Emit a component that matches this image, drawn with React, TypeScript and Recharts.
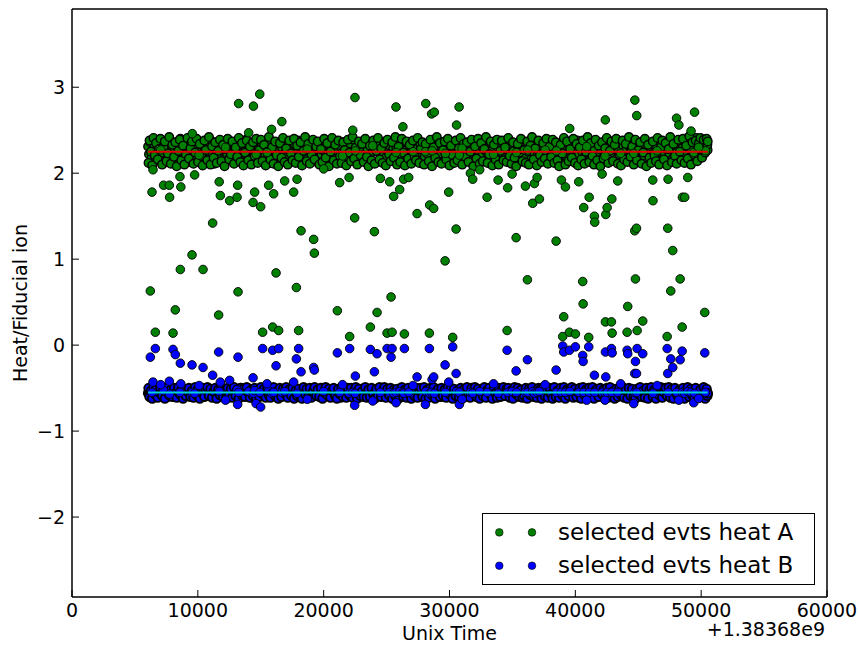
import { ScatterChart, Scatter, XAxis, YAxis, Legend } from "recharts";

// event times (s, offset +1.38368e9) for the bulk of events
const bandTimes = [
  6050, 6120, 6210, 6330, 6420, 6540, 6610, 6750, 6880, 6960,
  7090, 7230, 7310, 7450, 7580, 7660, 7790, 7920, 8040, 8170,
  8250, 8390, 8520, 8610, 8760, 8890, 8970, 9120, 9240, 9350,
  9480, 9600, 9710, 9860, 9950, 10090, 10220, 10310, 10460, 10580,
  10690, 10830, 10940, 11080, 11190, 11320, 11440, 11560, 11700, 11810,
  11950, 12060, 12190, 12330, 12420, 12570, 12690, 12800, 12950, 13060,
  13200, 13310, 13450, 13570, 13680, 13830, 13940, 14080, 14200, 14310,
  14460, 14570, 14700, 14830, 14940, 15090, 15200, 15330, 15460, 15580,
  15710, 15820, 15960, 16080, 16210, 16330, 16450, 16590, 16700, 16840,
  16960, 17080, 17210, 17320, 17470, 17580, 17720, 17840, 17950, 18100,
  18220, 18340, 18470, 18590, 18720, 18840, 18960, 19100, 19210, 19350,
  19470, 19590, 19730, 19840, 19980, 20100, 20220, 20360, 20480, 20600,
  20740, 20850, 20990, 21110, 21230, 21370, 21480, 21620, 21740, 21860,
  21990, 22110, 22240, 22360, 22490, 22610, 22730, 22870, 22990, 23110,
  23250, 23360, 23500, 23620, 23740, 23880, 24000, 24120, 24260, 24370,
  24510, 24630, 24750, 24890, 25000, 25140, 25260, 25380, 25520, 25640,
  25760, 25900, 26010, 26150, 26270, 26390, 26530, 26650, 26770, 26910,
  27020, 27160, 27280, 27400, 27540, 27660, 27780, 27920, 28040, 28160,
  28300, 28410, 28550, 28670, 28790, 28930, 29050, 29170, 29310, 29420,
  29560, 29680, 29800, 29940, 30060, 30180, 30320, 30430, 30570, 30690,
  30810, 30950, 31070, 31190, 31330, 31440, 31580, 31700, 31820, 31960,
  32080, 32200, 32340, 32450, 32590, 32710, 32830, 32970, 33090, 33210,
  33350, 33460, 33600, 33720, 33840, 33980, 34100, 34220, 34360, 34470,
  34610, 34730, 34850, 34990, 35110, 35230, 35370, 35480, 35620, 35740,
  35860, 36000, 36120, 36240, 36380, 36490, 36630, 36750, 36870, 37010,
  37130, 37250, 37390, 37500, 37640, 37760, 37880, 38020, 38140, 38260,
  38400, 38510, 38650, 38770, 38890, 39030, 39150, 39270, 39410, 39520,
  39660, 39780, 39900, 40040, 40160, 40280, 40420, 40530, 40670, 40790,
  40910, 41050, 41170, 41290, 41430, 41540, 41680, 41800, 41920, 42060,
  42180, 42300, 42440, 42550, 42690, 42810, 42930, 43070, 43190, 43310,
  43450, 43560, 43700, 43820, 43940, 44080, 44200, 44320, 44460, 44570,
  44710, 44830, 44950, 45090, 45210, 45330, 45470, 45580, 45720, 45840,
  45960, 46100, 46220, 46340, 46480, 46590, 46730, 46850, 46970, 47110,
  47230, 47350, 47490, 47600, 47740, 47860, 47980, 48120, 48240, 48360,
  48500, 48610, 48750, 48870, 48990, 49130, 49250, 49370, 49510, 49620,
  49760, 49880, 50000, 50140, 50260, 50380, 50470, 50510,
];

const bandHeatA = [
  2.31, 2.22, 2.36, 2.18, 2.27, 2.33, 2.14, 2.25, 2.29, 2.20,
  2.35, 2.24, 2.12, 2.30, 2.26, 2.19, 2.38, 2.23, 2.28, 2.16,
  2.32, 2.21, 2.27, 2.40, 2.17, 2.25, 2.34, 2.22, 2.13, 2.29,
  2.24, 2.36, 2.19, 2.28, 2.31, 2.15, 2.26, 2.33, 2.21, 2.27,
  2.18, 2.30, 2.24, 2.37, 2.22, 2.11, 2.28, 2.25, 2.32, 2.20,
  2.27, 2.16, 2.34, 2.23, 2.29, 2.19, 2.36, 2.26, 2.14, 2.31,
  2.22, 2.28, 2.17, 2.33, 2.25, 2.39, 2.20, 2.27, 2.30, 2.13,
  2.35, 2.24, 2.18, 2.29, 2.26, 2.32, 2.15, 2.23, 2.37, 2.21,
  2.28, 2.12, 2.31, 2.25, 2.19, 2.34, 2.27, 2.22, 2.30, 2.16,
  2.24, 2.36, 2.20, 2.29, 2.14, 2.27, 2.33, 2.23, 2.38, 2.18,
  2.26, 2.31, 2.21, 2.35, 2.17, 2.28, 2.24, 2.32, 2.19, 2.30,
  2.13, 2.27, 2.34, 2.22, 2.29, 2.25, 2.37, 2.16, 2.31, 2.23,
  2.28, 2.20, 2.33, 2.26, 2.15, 2.30, 2.24, 2.36, 2.21, 2.27,
  2.18, 2.32, 2.25, 2.39, 2.22, 2.29, 2.14, 2.31, 2.26, 2.20,
  2.35, 2.23, 2.28, 2.17, 2.33, 2.25, 2.30, 2.12, 2.27, 2.34,
  2.21, 2.29, 2.24, 2.37, 2.19, 2.26, 2.32, 2.16, 2.28, 2.23,
  2.31, 2.15, 2.36, 2.25, 2.20, 2.30, 2.27, 2.22, 2.34, 2.18,
  2.26, 2.33, 2.21, 2.28, 2.14, 2.35, 2.24, 2.30, 2.19, 2.27,
  2.32, 2.23, 2.38, 2.17, 2.29, 2.25, 2.31, 2.20, 2.36, 2.13,
  2.27, 2.22, 2.33, 2.26, 2.18, 2.30, 2.24, 2.37, 2.21, 2.28,
  2.16, 2.34, 2.25, 2.29, 2.22, 2.31, 2.19, 2.27, 2.35, 2.23,
  2.30, 2.14, 2.26, 2.32, 2.20, 2.28, 2.36, 2.24, 2.17, 2.33,
  2.25, 2.29, 2.21, 2.38, 2.27, 2.15, 2.31, 2.23, 2.34, 2.19,
  2.28, 2.24, 2.32, 2.18, 2.26, 2.35, 2.22, 2.30, 2.13, 2.27,
  2.33, 2.20, 2.29, 2.25, 2.37, 2.16, 2.31, 2.24, 2.28, 2.21,
  2.26, 2.34, 2.19, 2.30, 2.23, 2.27, 2.36, 2.15, 2.32, 2.25,
  2.22, 2.29, 2.17, 2.33, 2.28, 2.24, 2.31, 2.20, 2.35, 2.26,
  2.30, 2.14, 2.27, 2.23, 2.38, 2.21, 2.29, 2.25, 2.18, 2.34,
  2.24, 2.31, 2.26, 2.19, 2.32, 2.28, 2.16, 2.36, 2.22, 2.27,
  2.33, 2.20, 2.29, 2.25, 2.13, 2.30, 2.37, 2.23, 2.28, 2.17,
  2.26, 2.35, 2.21, 2.32, 2.24, 2.29, 2.18, 2.31, 2.27, 2.39,
  2.22, 2.28, 2.15, 2.34, 2.25, 2.30, 2.20, 2.36, 2.23, 2.27,
  2.31, 2.19, 2.33, 2.26, 2.29, 2.14, 2.37, 2.24, 2.32, 2.21,
  2.28, 2.35, 2.22, 2.30, 2.17, 2.27, 2.34, 2.25, 2.38, 2.20,
  2.29, 2.24, 2.40, 2.31, 2.16, 2.33, 2.26, 2.36, 2.21, 2.41,
  2.30, 2.19, 2.37, 2.28, 2.23, 2.35, 2.32, 2.27,
];

const bandHeatB = [
  -0.56, -0.53, -0.58, -0.54, -0.57, -0.52, -0.55, -0.59, -0.54, -0.56,
  -0.51, -0.57, -0.55, -0.53, -0.60, -0.54, -0.56, -0.52, -0.58, -0.55,
  -0.53, -0.57, -0.50, -0.56, -0.54, -0.59, -0.55, -0.52, -0.57, -0.54,
  -0.58, -0.55, -0.53, -0.56, -0.51, -0.57, -0.54, -0.59, -0.55, -0.52,
  -0.56, -0.54, -0.58, -0.53, -0.55, -0.60, -0.52, -0.56, -0.54, -0.57,
  -0.55, -0.51, -0.57, -0.54, -0.59, -0.53, -0.56, -0.55, -0.52, -0.58,
  -0.54, -0.56, -0.50, -0.57, -0.55, -0.53, -0.58, -0.54, -0.56, -0.61,
  -0.53, -0.57, -0.55, -0.52, -0.56, -0.59, -0.54, -0.51, -0.57, -0.55,
  -0.58, -0.54, -0.56, -0.53, -0.55, -0.60, -0.52, -0.57, -0.54, -0.56,
  -0.55, -0.59, -0.53, -0.56, -0.51, -0.57, -0.54, -0.58, -0.55, -0.52,
  -0.56, -0.54, -0.57, -0.53, -0.60, -0.55, -0.52, -0.56, -0.58, -0.54,
  -0.53, -0.57, -0.55, -0.50, -0.56, -0.59, -0.54, -0.57, -0.52, -0.55,
  -0.58, -0.54, -0.56, -0.53, -0.55, -0.61, -0.52, -0.57, -0.54, -0.56,
  -0.55, -0.52, -0.58, -0.54, -0.56, -0.53, -0.59, -0.55, -0.51, -0.57,
  -0.54, -0.56, -0.53, -0.58, -0.55, -0.52, -0.57, -0.60, -0.54, -0.56,
  -0.53, -0.57, -0.55, -0.51, -0.56, -0.59, -0.54, -0.52, -0.58, -0.55,
  -0.56, -0.54, -0.57, -0.53, -0.55, -0.60, -0.52, -0.56, -0.54, -0.58,
  -0.55, -0.53, -0.57, -0.50, -0.56, -0.54, -0.59, -0.55, -0.52, -0.57,
  -0.54, -0.58, -0.55, -0.53, -0.56, -0.51, -0.57, -0.54, -0.60, -0.55,
  -0.52, -0.56, -0.54, -0.58, -0.55, -0.53, -0.57, -0.61, -0.54, -0.56,
  -0.55, -0.52, -0.57, -0.54, -0.59, -0.56, -0.53, -0.55, -0.50, -0.57,
  -0.54, -0.58, -0.55, -0.52, -0.56, -0.53, -0.60, -0.54, -0.57, -0.55,
  -0.53, -0.56, -0.51, -0.58, -0.55, -0.54, -0.57, -0.52, -0.56, -0.59,
  -0.55, -0.53, -0.57, -0.54, -0.56, -0.50, -0.58, -0.55, -0.52, -0.56,
  -0.54, -0.59, -0.55, -0.53, -0.57, -0.56, -0.51, -0.58, -0.54, -0.55,
  -0.57, -0.53, -0.56, -0.60, -0.54, -0.55, -0.52, -0.57, -0.55, -0.53,
  -0.56, -0.54, -0.58, -0.51, -0.55, -0.57, -0.53, -0.59, -0.54, -0.56,
  -0.52, -0.55, -0.57, -0.54, -0.56, -0.61, -0.53, -0.55, -0.58, -0.54,
  -0.56, -0.50, -0.55, -0.57, -0.53, -0.56, -0.59, -0.54, -0.52, -0.57,
  -0.55, -0.58, -0.54, -0.56, -0.53, -0.60, -0.55, -0.51, -0.57, -0.54,
  -0.56, -0.53, -0.58, -0.55, -0.52, -0.57, -0.54, -0.59, -0.56, -0.55,
  -0.53, -0.57, -0.55, -0.50, -0.56, -0.54, -0.58, -0.55, -0.52, -0.60,
  -0.56, -0.54, -0.57, -0.53, -0.55, -0.59, -0.51, -0.56, -0.54, -0.58,
  -0.55, -0.52, -0.57, -0.54, -0.56, -0.53, -0.60, -0.55, -0.57, -0.54,
  -0.56, -0.58, -0.53, -0.55, -0.57, -0.52, -0.59, -0.54, -0.56, -0.58,
  -0.55, -0.57, -0.53, -0.56, -0.54, -0.58, -0.55, -0.57,
];

// second run of events, interleaved with the first
const bandTimes2 = [
  6085, 6165, 6270, 6375, 6480, 6575, 6680, 6815, 6920, 7025,
  7160, 7270, 7380, 7515, 7620, 7725, 7855, 7980, 8105, 8210,
  8320, 8455, 8565, 8685, 8825, 8930, 9045, 9180, 9295, 9415,
  9540, 9655, 9785, 9905, 10020, 10155, 10265, 10385, 10520, 10635,
  10760, 10885, 11010, 11135, 11255, 11380, 11500, 11630, 11755, 11880,
  12005, 12125, 12260, 12375, 12495, 12630, 12745, 12875, 13005, 13130,
  13255, 13380, 13510, 13625, 13755, 13885, 14010, 14140, 14255, 14385,
  14515, 14635, 14765, 14885, 15015, 15145, 15265, 15395, 15520, 15645,
  15765, 15890, 16020, 16145, 16270, 16390, 16520, 16645, 16770, 16900,
  17020, 17145, 17265, 17395, 17525, 17650, 17780, 17895, 18025, 18160,
  18280, 18405, 18530, 18655, 18780, 18900, 19030, 19155, 19280, 19410,
  19530, 19660, 19785, 19910, 20040, 20160, 20290, 20420, 20540, 20670,
  20795, 20920, 21050, 21170, 21300, 21425, 21550, 21680, 21800, 21925,
  22050, 22175, 22300, 22425, 22550, 22670, 22800, 22930, 23050, 23180,
  23305, 23430, 23560, 23680, 23810, 23940, 24060, 24190, 24315, 24440,
  24570, 24690, 24820, 24945, 25070, 25200, 25320, 25450, 25580, 25700,
  25830, 25955, 26080, 26210, 26330, 26460, 26590, 26710, 26840, 26965,
  27090, 27220, 27340, 27470, 27600, 27720, 27850, 27980, 28100, 28230,
  28355, 28480, 28610, 28730, 28860, 28990, 29110, 29240, 29365, 29490,
  29620, 29740, 29870, 30000, 30120, 30250, 30375, 30500, 30630, 30750,
  30880, 31010, 31130, 31260, 31385, 31510, 31640, 31760, 31890, 32020,
  32140, 32270, 32395, 32520, 32650, 32770, 32900, 33030, 33150, 33280,
  33405, 33530, 33660, 33780, 33910, 34040, 34160, 34290, 34415, 34540,
  34670, 34790, 34920, 35050, 35170, 35300, 35425, 35550, 35680, 35800,
  35930, 36060, 36180, 36310, 36435, 36560, 36690, 36810, 36940, 37070,
  37190, 37320, 37445, 37570, 37700, 37820, 37950, 38080, 38200, 38330,
  38455, 38580, 38710, 38830, 38960, 39090, 39210, 39340, 39465, 39590,
  39720, 39840, 39970, 40100, 40220, 40350, 40475, 40600, 40730, 40850,
  40980, 41110, 41230, 41360, 41485, 41610, 41740, 41860, 41990, 42120,
  42240, 42370, 42495, 42620, 42750, 42870, 43000, 43130, 43250, 43380,
  43505, 43630, 43760, 43880, 44010, 44140, 44260, 44390, 44515, 44640,
  44770, 44890, 45020, 45150, 45270, 45400, 45525, 45650, 45780, 45900,
  46030, 46160, 46280, 46410, 46535, 46660, 46790, 46910, 47040, 47170,
  47290, 47420, 47545, 47670, 47800, 47920, 48050, 48180, 48300, 48430,
  48555, 48680, 48810, 48930, 49060, 49190, 49310, 49440, 49565, 49690,
  49820, 49940, 50070, 50200, 50320, 50430, 50490, 50520,
];

const bandHeatA2 = [
  2.12, 2.38, 2.25, 2.09, 2.41, 2.21, 2.35, 2.16, 2.28, 2.40,
  2.10, 2.30, 2.37, 2.14, 2.23, 2.42, 2.11, 2.33, 2.19, 2.36,
  2.08, 2.26, 2.39, 2.15, 2.32, 2.10, 2.22, 2.41, 2.17, 2.29,
  2.37, 2.11, 2.24, 2.40, 2.13, 2.34, 2.20, 2.09, 2.38, 2.27,
  2.15, 2.42, 2.10, 2.31, 2.18, 2.36, 2.12, 2.26, 2.39, 2.14,
  2.33, 2.08, 2.28, 2.40, 2.16, 2.22, 2.37, 2.11, 2.30, 2.19,
  2.41, 2.13, 2.35, 2.09, 2.24, 2.38, 2.15, 2.31, 2.10, 2.36,
  2.20, 2.40, 2.12, 2.27, 2.39, 2.14, 2.33, 2.09, 2.25, 2.42,
  2.16, 2.30, 2.11, 2.37, 2.21, 2.08, 2.35, 2.18, 2.41, 2.13,
  2.29, 2.10, 2.38, 2.23, 2.15, 2.40, 2.12, 2.32, 2.19, 2.36,
  2.09, 2.26, 2.42, 2.14, 2.34, 2.11, 2.22, 2.39, 2.16, 2.31,
  2.37, 2.10, 2.28, 2.13, 2.40, 2.18, 2.35, 2.08, 2.25, 2.41,
  2.15, 2.33, 2.11, 2.38, 2.20, 2.12, 2.36, 2.27, 2.09, 2.39,
  2.24, 2.14, 2.42, 2.17, 2.30, 2.10, 2.37, 2.21, 2.34, 2.13,
  2.40, 2.19, 2.08, 2.32, 2.15, 2.38, 2.11, 2.26, 2.41, 2.16,
  2.29, 2.12, 2.35, 2.09, 2.39, 2.22, 2.14, 2.36, 2.18, 2.42,
  2.10, 2.31, 2.13, 2.40, 2.24, 2.09, 2.37, 2.17, 2.33, 2.11,
  2.38, 2.20, 2.15, 2.41, 2.12, 2.28, 2.36, 2.10, 2.34, 2.23,
  2.14, 2.39, 2.08, 2.30, 2.18, 2.42, 2.13, 2.35, 2.11, 2.27,
  2.37, 2.16, 2.40, 2.09, 2.32, 2.21, 2.12, 2.38, 2.15, 2.29,
  2.41, 2.10, 2.34, 2.19, 2.36, 2.13, 2.25, 2.39, 2.08, 2.31,
  2.17, 2.40, 2.11, 2.35, 2.14, 2.28, 2.42, 2.12, 2.22, 2.37,
  2.09, 2.33, 2.16, 2.39, 2.10, 2.26, 2.38, 2.15, 2.30, 2.13,
  2.41, 2.20, 2.11, 2.36, 2.18, 2.08, 2.34, 2.24, 2.40, 2.14,
  2.27, 2.12, 2.37, 2.10, 2.32, 2.42, 2.16, 2.29, 2.09, 2.38,
  2.21, 2.13, 2.35, 2.17, 2.40, 2.11, 2.31, 2.19, 2.39, 2.12,
  2.36, 2.15, 2.08, 2.33, 2.23, 2.41, 2.10, 2.37, 2.14, 2.28,
  2.18, 2.40, 2.12, 2.34, 2.09, 2.30, 2.16, 2.38, 2.11, 2.25,
  2.42, 2.13, 2.35, 2.20, 2.10, 2.39, 2.15, 2.32, 2.08, 2.36,
  2.17, 2.29, 2.41, 2.12, 2.26, 2.37, 2.14, 2.33, 2.40, 2.11,
  2.22, 2.09, 2.38, 2.16, 2.34, 2.13, 2.42, 2.19, 2.31, 2.10,
  2.39, 2.15, 2.27, 2.36, 2.11, 2.24, 2.40, 2.08, 2.33, 2.18,
  2.12, 2.37, 2.21, 2.14, 2.41, 2.10, 2.30, 2.38, 2.16, 2.35,
  2.09, 2.28, 2.42, 2.13, 2.34, 2.20, 2.11, 2.39, 2.25, 2.15,
  2.40, 2.12, 2.32, 2.17, 2.43, 2.10, 2.36, 2.22, 2.38, 2.14,
  2.35, 2.41, 2.18, 2.39, 2.24, 2.40, 2.33, 2.37,
];

const bandHeatB2 = [
  -0.50, -0.60, -0.53, -0.62, -0.49, -0.57, -0.52, -0.61, -0.55, -0.50,
  -0.59, -0.51, -0.62, -0.54, -0.49, -0.58, -0.52, -0.60, -0.50, -0.56,
  -0.61, -0.49, -0.57, -0.52, -0.62, -0.51, -0.59, -0.54, -0.50, -0.60,
  -0.53, -0.61, -0.49, -0.58, -0.51, -0.62, -0.55, -0.50, -0.60, -0.52,
  -0.49, -0.59, -0.51, -0.61, -0.54, -0.50, -0.62, -0.52, -0.58, -0.49,
  -0.60, -0.53, -0.62, -0.50, -0.57, -0.51, -0.61, -0.49, -0.59, -0.52,
  -0.62, -0.50, -0.58, -0.51, -0.60, -0.49, -0.55, -0.61, -0.52, -0.59,
  -0.50, -0.62, -0.53, -0.60, -0.49, -0.57, -0.51, -0.61, -0.50, -0.58,
  -0.61, -0.52, -0.49, -0.59, -0.54, -0.62, -0.50, -0.60, -0.51, -0.56,
  -0.49, -0.61, -0.52, -0.58, -0.50, -0.62, -0.53, -0.59, -0.51, -0.60,
  -0.62, -0.49, -0.57, -0.51, -0.60, -0.50, -0.61, -0.54, -0.49, -0.59,
  -0.52, -0.60, -0.50, -0.62, -0.55, -0.49, -0.58, -0.51, -0.61, -0.53,
  -0.50, -0.59, -0.62, -0.51, -0.57, -0.49, -0.60, -0.52, -0.61, -0.50,
  -0.58, -0.50, -0.61, -0.53, -0.49, -0.62, -0.51, -0.59, -0.54, -0.60,
  -0.49, -0.61, -0.52, -0.60, -0.50, -0.57, -0.62, -0.51, -0.59, -0.49,
  -0.60, -0.53, -0.49, -0.61, -0.51, -0.58, -0.50, -0.62, -0.52, -0.59,
  -0.51, -0.62, -0.55, -0.49, -0.60, -0.52, -0.61, -0.50, -0.57, -0.62,
  -0.49, -0.59, -0.51, -0.61, -0.53, -0.50, -0.60, -0.49, -0.62, -0.52,
  -0.61, -0.50, -0.58, -0.49, -0.62, -0.54, -0.51, -0.60, -0.50, -0.59,
  -0.52, -0.61, -0.49, -0.57, -0.50, -0.62, -0.51, -0.59, -0.53, -0.60,
  -0.50, -0.62, -0.52, -0.60, -0.49, -0.58, -0.61, -0.50, -0.55, -0.49,
  -0.60, -0.51, -0.62, -0.53, -0.59, -0.49, -0.61, -0.52, -0.50, -0.58,
  -0.62, -0.49, -0.56, -0.61, -0.50, -0.60, -0.52, -0.49, -0.59, -0.51,
  -0.50, -0.61, -0.53, -0.62, -0.49, -0.57, -0.50, -0.60, -0.52, -0.61,
  -0.59, -0.50, -0.62, -0.51, -0.58, -0.49, -0.60, -0.54, -0.61, -0.50,
  -0.52, -0.62, -0.49, -0.59, -0.51, -0.61, -0.50, -0.57, -0.62, -0.49,
  -0.60, -0.53, -0.61, -0.50, -0.58, -0.49, -0.62, -0.52, -0.59, -0.51,
  -0.49, -0.61, -0.51, -0.60, -0.55, -0.50, -0.62, -0.49, -0.58, -0.52,
  -0.61, -0.50, -0.59, -0.49, -0.62, -0.53, -0.51, -0.60, -0.50, -0.57,
  -0.52, -0.62, -0.50, -0.61, -0.49, -0.59, -0.54, -0.62, -0.51, -0.60,
  -0.50, -0.58, -0.49, -0.61, -0.52, -0.62, -0.50, -0.59, -0.51, -0.60,
  -0.62, -0.51, -0.57, -0.49, -0.60, -0.53, -0.61, -0.50, -0.62, -0.52,
  -0.49, -0.60, -0.52, -0.62, -0.50, -0.58, -0.49, -0.61, -0.55, -0.50,
  -0.59, -0.49, -0.61, -0.51, -0.62, -0.50, -0.57, -0.60, -0.52, -0.61,
  -0.50, -0.62, -0.53, -0.49, -0.60, -0.51, -0.59, -0.62, -0.50, -0.58,
  -0.61, -0.52, -0.60, -0.49, -0.62, -0.51, -0.59, -0.56,
];

// events where one or both channels sit away from the band
const outlierTimes = [
  6224, 6359, 6439, 6622, 7281, 7734, 7758, 8029, 8211, 8609,
  8650, 8580, 9539, 9563, 9745, 10413, 11176, 11653, 11700, 11788,
  12527, 13116, 13195, 13163, 13243, 14038, 14388, 14420, 14515, 14626,
  14920, 14992, 15151, 15628, 15858, 15946, 16025, 16216, 16423, 16677,
  16900, 17615, 17830, 17886, 18012, 18203, 19205, 19260, 20000, 21089,
  21272, 22019, 22067, 22313, 22464, 22488, 22520, 23712, 24030, 24244,
  24507, 25039, 25246, 25357, 25437, 25564, 25747, 25755, 26041, 26296,
  26359, 26415, 26757, 27424, 28084, 28116, 28402, 28426, 28577, 28617,
  28744, 28792, 29650, 29674, 29936, 30254, 30525, 30560, 30763, 30787,
  31661, 31844, 32400, 32988, 33863, 34578, 34620, 34976, 35294, 35318,
  36033, 36192, 36216, 36613, 36748, 36963, 37146, 38473, 38497, 38895,
  38998, 39077, 39213, 39531, 39554, 40007, 40270, 40588, 40620, 40667,
  41065, 41100, 41517, 41540, 42130, 42384, 42392, 42420, 42360, 42527,
  42869, 42925, 42900, 43370, 44117, 44165, 44721, 44729, 44640, 44777,
  44880, 44860, 44912, 45357, 46152, 46170, 47297, 47345, 47370, 47583,
  47742, 48044, 48227, 48330, 48489, 48510, 48692, 48934, 49197, 49411,
  49475, 50286, 50341,
  7050, 10100, 12200, 15500, 18700, 21500, 23900, 27100, 31000, 33500,
  37600, 40900, 43600, 46500, 49800,
];

const outlierHeatA = [
  0.63, 1.78, 2.04, 0.15, 1.86, 1.86, 1.72, 0.14, 0.41, 0.88,
  1.84, 1.96, 1.05, 2.46, 1.98, 0.88, 1.42, 0.35, 1.90, 1.74,
  1.68, 1.72, 0.62, 1.86, 2.81, 2.47, 1.66, 2.78, 1.78, 2.22,
  2.92, 1.61, 0.15, 1.86, 2.51, 0.21, 1.76, 0.84, 0.17, 2.60,
  1.91, 1.78, 0.67, 1.93, 0.17, 1.33, 1.23, 1.07, 2.05, 0.40,
  1.89, 1.95, 0.10, 2.50, 1.48, 2.88, 2.26, 0.21, 1.32, 0.38,
  1.94, 0.14, 1.90, 0.56, 0.15, 1.73, 2.77, 2.24, 1.81, 2.54,
  1.93, 0.13, 1.95, 1.53, 2.25, 2.81, 0.14, 1.63, 2.69, 2.26,
  1.59, 2.71, 0.98, 2.23, 1.78, 0.09, 1.35, 2.56, 2.77, 2.21,
  2.00, 1.93, 2.04, 1.72, 1.92, 0.17, 1.83, 1.99, 1.25, 2.24,
  1.85, 0.76, 2.27, 1.65, 1.88, 1.95, 1.70, 1.21, 2.26, 1.92,
  0.10, 0.33, 1.84, 0.15, 2.52, 0.13, 1.90, 0.74, 0.48, 1.60,
  0.09, 1.72, 1.50, 1.43, 1.99, 2.62, 0.27, 1.52, 2.20, 1.60,
  0.27, 0.14, 1.70, 1.91, 0.15, 0.45, 1.33, 2.85, 2.23, 0.77,
  2.67, 1.36, 0.17, 0.28, 1.92, 1.68, 0.10, 1.36, 1.93, 0.63,
  1.10, 2.64, 2.56, 0.77, 0.21, 1.72, 1.72, 1.95, 2.49, 2.24,
  2.71, 0.38, 2.26,
  2.27, 2.21, 2.30, 2.24, 2.28, 2.20, 2.32, 2.25, 2.29, 2.22,
  2.27, 2.31, 2.23, 2.26, 2.30,
];

const outlierHeatB = [
  -0.14, -0.55, -0.43, -0.04, -0.53, -0.42, -0.57, -0.05, -0.11, -0.21,
  -0.45, -0.55, -0.23, -0.55, -0.56, -0.26, -0.35, -0.08, -0.54, -0.43,
  -0.41, -0.52, -0.14, -0.69, -0.55, -0.54, -0.38, -0.56, -0.53, -0.68,
  -0.55, -0.72, -0.04, -0.53, -0.56, -0.06, -0.55, -0.24, -0.04, -0.55,
  -0.54, -0.43, -0.16, -0.56, -0.04, -0.31, -0.26, -0.29, -0.54, -0.09,
  -0.55, -0.56, -0.04, -0.55, -0.70, -0.56, -0.36, -0.05, -0.31, -0.10,
  -0.55, -0.04, -0.55, -0.14, -0.04, -0.56, -0.55, -0.67, -0.54, -0.55,
  -0.56, -0.04, -0.55, -0.37, -0.69, -0.54, -0.04, -0.56, -0.55, -0.40,
  -0.37, -0.56, -0.23, -0.55, -0.43, -0.02, -0.33, -0.54, -0.55, -0.69,
  -0.55, -0.56, -0.54, -0.55, -0.56, -0.06, -0.55, -0.54, -0.30, -0.55,
  -0.55, -0.17, -0.55, -0.54, -0.56, -0.55, -0.54, -0.29, -0.55, -0.55,
  -0.01, -0.08, -0.55, -0.06, -0.54, -0.02, -0.55, -0.12, -0.19, -0.55,
  -0.02, -0.55, -0.35, -0.55, -0.55, -0.56, -0.08, -0.37, -0.64, -0.55,
  -0.04, -0.09, -0.55, -0.55, -0.06, -0.10, -0.33, -0.55, -0.68, -0.19,
  -0.55, -0.33, -0.04, -0.10, -0.55, -0.56, -0.04, -0.33, -0.55, -0.16,
  -0.26, -0.55, -0.64, -0.17, -0.07, -0.55, -0.56, -0.54, -0.55, -0.67,
  -0.56, -0.09, -0.55,
  -0.46, -0.47, -0.64, -0.45, -0.63, -0.46, -0.65, -0.47, -0.63, -0.45,
  -0.46, -0.64, -0.45, -0.47, -0.62,
];

const meanHeatA = 2.25;
const meanHeatB = -0.55;

const xTicks = [0, 10000, 20000, 30000, 40000, 50000, 60000];
const yTicks = [-2, -1, 0, 1, 2, 3];
const seriesNames = ["selected evts heat A", "selected evts heat B"];

const FONT = "DejaVu Sans";

const toPoints = (times: number[], values: number[]) =>
  times.slice(0, values.length).map((t, i) => ({ t, y: values[i] }));

const bandAPoints = [...toPoints(bandTimes, bandHeatA), ...toPoints(bandTimes2, bandHeatA2)];
const bandBPoints = [...toPoints(bandTimes, bandHeatB), ...toPoints(bandTimes2, bandHeatB2)];
const outlierAPoints = toPoints(outlierTimes, outlierHeatA);
const outlierBPoints = toPoints(outlierTimes, outlierHeatB);

const allTimes = [...bandTimes, ...bandTimes2, ...outlierTimes];
const tFirst = Math.min(...allTimes);
const tLast = Math.max(...allTimes);
const meanALine = [{ t: tFirst, y: meanHeatA }, { t: tLast, y: meanHeatA }];
const meanBLine = [{ t: tFirst, y: meanHeatB }, { t: tLast, y: meanHeatB }];

const dot = (fill: string, sw: number) => (props: any) => (
  <circle cx={props.cx} cy={props.cy} r={4.3} fill={fill} stroke="#000" strokeWidth={sw} />
);
const noDot = () => <g />;

const fmtY = (v: number) => (v < 0 ? `\u2212${Math.abs(v)}` : `${v}`);

const XCaption = (props: any) => {
  const vb = props.viewBox || { x: 72, y: 597, width: 755, height: 30 };
  return (
    <g fontFamily={FONT} fontSize={19} fill="#000">
      <text x={vb.x + vb.width / 2} y={vb.y + 43} textAnchor="middle">Unix Time</text>
      <text x={vb.x + vb.width - 2} y={vb.y + 39} textAnchor="end">+1.38368e9</text>
    </g>
  );
};

const YCaption = (props: any) => {
  const vb = props.viewBox || { x: 12, y: 9, width: 60, height: 588 };
  const cx = vb.x + 15;
  const cy = vb.y + vb.height / 2;
  return (
    <text
      x={cx}
      y={cy}
      transform={`rotate(-90 ${cx} ${cy})`}
      textAnchor="middle"
      fontFamily={FONT}
      fontSize={19}
      fill="#000"
    >
      Heat/Fiducial ion
    </text>
  );
};

const LegendBox = () => (
  <svg width={333} height={72} style={{ display: "block" }}>
    <rect x={0.5} y={0.5} width={332} height={71} fill="#fff" stroke="#000" strokeWidth={1} />
    {[["#008000", 19.4, 26.7], ["#0000ff", 52.7, 60]].map(([c, cy, by], i) => (
      <g key={i}>
        <circle cx={17.3} cy={cy as number} r={3.8} fill={c as string} stroke="#000" strokeWidth={0.6} />
        <circle cx={50} cy={cy as number} r={3.8} fill={c as string} stroke="#000" strokeWidth={0.6} />
        <text x={76} y={by as number} fontFamily={FONT} fontSize={23} fill="#000">
          {seriesNames[i]}
        </text>
      </g>
    ))}
  </svg>
);

const tickStyle = { fill: "#000", fontSize: 19, fontFamily: FONT };
const spine = { stroke: "#000", strokeWidth: 1.5 };
const tickMark = { stroke: "#000", strokeWidth: 1 };

export default function App() {
  return (
    <div style={{ position: "absolute", left: 0, top: 0, background: "#fff" }}>
      <ScatterChart width={858} height={647} margin={{ top: 8, right: 30, bottom: 20, left: 12 }}>
        <XAxis
          type="number"
          dataKey="t"
          domain={[0, 60000]}
          ticks={xTicks}
          interval={0}
          allowDataOverflow
          height={30}
          tickSize={-7}
          tickMargin={14}
          tick={tickStyle}
          axisLine={spine}
          tickLine={tickMark}
          label={<XCaption />}
        />
        <XAxis
          xAxisId="top"
          orientation="top"
          type="number"
          dataKey="t"
          domain={[0, 60000]}
          ticks={xTicks}
          interval={0}
          allowDataOverflow
          height={1}
          tickSize={-7}
          tick={false}
          axisLine={spine}
          tickLine={tickMark}
        />
        <YAxis
          type="number"
          dataKey="y"
          domain={[-2.93, 3.91]}
          ticks={yTicks}
          interval={0}
          allowDataOverflow
          width={60}
          tickSize={-7}
          tickMargin={14}
          tick={tickStyle}
          tickFormatter={fmtY}
          axisLine={spine}
          tickLine={tickMark}
          label={<YCaption />}
        />
        <YAxis
          yAxisId="right"
          orientation="right"
          type="number"
          dataKey="y"
          domain={[-2.93, 3.91]}
          ticks={yTicks}
          interval={0}
          allowDataOverflow
          width={1}
          tickSize={-7}
          tick={false}
          axisLine={spine}
          tickLine={tickMark}
        />
        <Scatter data={bandAPoints} dataKey="y" shape={dot("#008000", 1.4)} legendType="none" isAnimationActive={false} />
        <Scatter name={seriesNames[0]} data={outlierAPoints} dataKey="y" shape={dot("#008000", 0.9)} isAnimationActive={false} />
        <Scatter data={bandBPoints} dataKey="y" shape={dot("#0000ff", 1.9)} legendType="none" isAnimationActive={false} />
        <Scatter name={seriesNames[1]} data={outlierBPoints} dataKey="y" shape={dot("#0000ff", 0.9)} isAnimationActive={false} />
        <Scatter
          xAxisId="top"
          yAxisId="right"
          data={meanALine}
          dataKey="y"
          shape={noDot}
          line={{ stroke: "#dd0000", strokeWidth: 2 }}
          legendType="none"
          isAnimationActive={false}
        />
        <Scatter
          xAxisId="top"
          yAxisId="right"
          data={meanBLine}
          dataKey="y"
          shape={noDot}
          line={{ stroke: "#00d4d4", strokeWidth: 2 }}
          legendType="none"
          isAnimationActive={false}
        />
        <Legend
          layout="horizontal"
          verticalAlign="middle"
          align="center"
          content={<LegendBox />}
          wrapperStyle={{ left: 482, top: 513, width: 333, height: 72 }}
        />
      </ScatterChart>
    </div>
  );
}
